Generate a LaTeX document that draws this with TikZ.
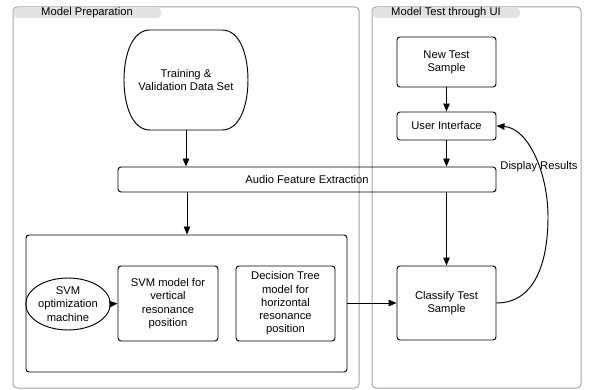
\documentclass[tikz,border=0pt]{standalone}
\usepackage{fontspec}
\setmainfont{Liberation Sans}
\usetikzlibrary{arrows.meta,shapes.geometric,calc}
\definecolor{framegray}{HTML}{A3A3A3}
\definecolor{tabgray}{HTML}{E2E2E2}
\tikzset{
  txt/.style={font=\fontsize{11.2}{13.3}\selectfont, align=center, inner sep=0pt},
  box/.style={txt, draw, line width=0.95pt, rounded corners=3pt},
  container/.style={draw=framegray, line width=1pt, rounded corners=4pt},
  tab/.style={fill=tabgray, draw=none},
  arr/.style={line width=0.95pt, -{Triangle[length=8pt,width=6.5pt]}},
}
\begin{document}
\begin{tikzpicture}[x=1pt,y=-1pt]
\useasboundingbox (0,0) rectangle (589,390);
% containers
\draw[container] (13,7) rectangle (359,388);
\draw[container] (372,7) rectangle (581,388);
\fill[tab, rounded corners=4pt] (13.5,7.5) -- (161,7.5) -- (161,18) -- (13.5,18) -- cycle;
\fill[tab, rounded corners=4pt] (372.5,7.5) -- (520,7.5) -- (520,18) -- (372.5,18) -- cycle;
\node[txt] (tabL) at (87,12.5) {Model Preparation};
\node[txt] (tabR) at (446,12.5) {Model Test through UI};

% training data shape
\node[txt, minimum width=124pt, minimum height=100pt] (train) at (186,80) {Training \&\\Validation Data Set};
\draw[line width=0.95pt] (150,30) -- (222,30)
  .. controls (240,30) and (248,55) .. (248,80)
  .. controls (248,105) and (240,130) .. (222,130)
  -- (150,130)
  .. controls (132,130) and (124,105) .. (124,80)
  .. controls (124,55) and (132,30) .. cycle;

% audio feature extraction
\node[box, minimum width=378pt, minimum height=25pt] (audio) at (307,179.5) {Audio Feature Extraction};

% model container
\node[box, minimum width=321pt, minimum height=137pt] (model) at (186.5,303.5) {};
\node[txt, draw, ellipse, line width=0.95pt, minimum width=72pt, minimum height=52pt] (svmopt) at (68,304) {SVM\\optimization\\machine};
\node[box, minimum width=100pt, minimum height=75pt] (svmmodel) at (168,303.5) {SVM model for\\vertical\\resonance\\position};
\node[box, minimum width=99pt, minimum height=75pt] (dtree) at (285.5,303.5) {Decision Tree\\model for\\horizontal\\resonance\\position};

% right side
\node[box, minimum width=99pt, minimum height=50pt] (nts) at (446.5,62) {New Test\\Sample};
\node[box, minimum width=99pt, minimum height=28pt] (ui) at (446.5,126) {User Interface};
\node[box, minimum width=99pt, minimum height=74pt] (classify) at (446.5,303) {Classify Test\\Sample};

% connectors
\draw[arr] (train.south) -- (train.south |- audio.north);
\draw[arr] ($(audio.south)+(-120,0)$) -- ($(model.north)+(0.5,0)$);
\draw[arr] (nts.south) -- (ui.north);
\draw[arr] (ui.south) -- (ui.south |- audio.north);
\draw[arr] (audio.south -| classify.north) -- (classify.north);
\draw[arr] (svmopt.east) -- (svmmodel.west);
\draw[arr] (model.east |- classify.west) -- (classify.west);
\draw[arr] (classify.east) .. controls (535,303) and (548,262) .. (548,217)
  .. controls (548,172) and (528,128) .. (ui.east);
\node[txt] (disp) at (539,167) {Display Results};
\end{tikzpicture}
\end{document}
